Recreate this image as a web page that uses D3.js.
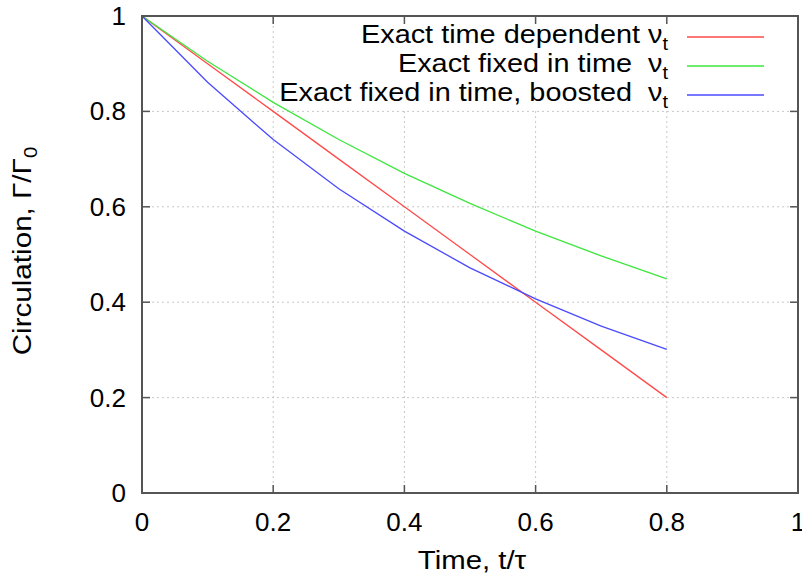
<!DOCTYPE html>
<html>
<head>
<meta charset="utf-8">
<script src="https://cdn.jsdelivr.net/npm/d3@7"></script>
<style>
  body { margin: 0; background: #fff; }
  svg text { font-family: "Liberation Sans", Arial, sans-serif; fill: #000; }
</style>
</head>
<body>
<svg id="chart" width="802" height="582"></svg>
<script>
const width = 802, height = 582;
const margin = {left: 142, right: 4, top: 16, bottom: 89};

// time t/tau
const times = [0, 0.1, 0.2, 0.3, 0.4, 0.5, 0.6, 0.7, 0.8];
const timeDependent = [1, 0.9, 0.8, 0.7, 0.6, 0.5, 0.4, 0.3, 0.2];
const fixedInTime = [1, 0.905, 0.819, 0.741, 0.670, 0.607, 0.549, 0.497, 0.449];
const fixedBoosted = [1, 0.861, 0.741, 0.638, 0.549, 0.472, 0.407, 0.350, 0.301];
const xTicks = [0, 0.2, 0.4, 0.6, 0.8, 1];
const yTicks = [0, 0.2, 0.4, 0.6, 0.8, 1];

const series = [
  {name: "Exact time dependent ", values: timeDependent, color: "#ff4a4a"},
  {name: "Exact fixed in time\u00a0 ", values: fixedInTime, color: "#3ee63e"},
  {name: "Exact fixed in time, boosted\u00a0 ", values: fixedBoosted, color: "#4a4aff"}
];

const svg = d3.select("#chart");
const x = d3.scaleLinear().domain([0, 1]).range([margin.left, width - margin.right]);
const y = d3.scaleLinear().domain([0, 1]).range([height - margin.bottom, margin.top]);
const stretch = 1.11; // the original font runs a bit wider

// grid
const grid = svg.append("g").attr("stroke", "#c8c8c8").attr("stroke-dasharray", "2,3");
grid.selectAll(".gx").data(xTicks.slice(1, -1)).join("line")
  .attr("x1", d => x(d)).attr("x2", d => x(d))
  .attr("y1", y(0)).attr("y2", y(1));
grid.selectAll(".gy").data(yTicks.slice(1, -1)).join("line")
  .attr("y1", d => y(d)).attr("y2", d => y(d))
  .attr("x1", x(0)).attr("x2", x(1));

// opaque key background
const keyTop = y(1), keyBottom = y(0.8) - 3;
svg.append("rect")
  .attr("x", x(0.205)).attr("y", keyTop)
  .attr("width", x(1) - x(0.205)).attr("height", keyBottom - keyTop)
  .attr("fill", "#fff");

// axes: inward ticks, mirrored
const tick = 8;
const axes = svg.append("g").attr("stroke", "#555").attr("stroke-width", 1.5);
axes.selectAll(".tb").data(xTicks).join("line")
  .attr("x1", d => x(d)).attr("x2", d => x(d))
  .attr("y1", y(0)).attr("y2", y(0) - tick);
axes.selectAll(".tt").data(xTicks).join("line")
  .attr("x1", d => x(d)).attr("x2", d => x(d))
  .attr("y1", y(1)).attr("y2", y(1) + tick);
axes.selectAll(".tl").data(yTicks).join("line")
  .attr("y1", d => y(d)).attr("y2", d => y(d))
  .attr("x1", x(0)).attr("x2", x(0) + tick);
axes.selectAll(".tr").data(yTicks).join("line")
  .attr("y1", d => y(d)).attr("y2", d => y(d))
  .attr("x1", x(1)).attr("x2", x(1) - tick);

// curves
const line = d3.line().x((d, i) => x(times[i])).y(d => y(d));
svg.selectAll(".curve").data(series).join("path")
  .attr("d", d => line(d.values))
  .attr("fill", "none")
  .attr("stroke", d => d.color)
  .attr("stroke-width", 1.3);

// border
svg.append("rect")
  .attr("x", x(0)).attr("y", y(1))
  .attr("width", x(1) - x(0)).attr("height", y(0) - y(1))
  .attr("fill", "none").attr("stroke", "#555").attr("stroke-width", 2);

// tick labels
svg.selectAll(".xl").data(xTicks).join("text")
  .attr("x", d => x(d)).attr("y", y(0) + 38)
  .attr("text-anchor", "middle").attr("font-size", 26)
  .text(d => d3.format("~g")(d));
svg.selectAll(".yl").data(yTicks).join("text")
  .attr("x", x(0) - 16).attr("y", d => y(d) + 9)
  .attr("text-anchor", "end").attr("font-size", 26)
  .text(d => d3.format("~g")(d));

// axis titles
svg.append("text")
  .attr("transform", `translate(472,569) scale(1.13,1)`)
  .attr("text-anchor", "middle").attr("font-size", 26)
  .text("Time, t/\u03c4");
const yt = svg.append("text")
  .attr("transform", `translate(31,251) rotate(-90) scale(1.14,1)`)
  .attr("text-anchor", "middle").attr("font-size", 26);
yt.append("tspan").text("Circulation, \u0393/\u0393");
yt.append("tspan").attr("font-size", 18).attr("dy", 6).text("0");

// legend
const keyY = [37, 66, 95];
const key = svg.selectAll(".key").data(series).join("g")
  .attr("transform", (d, i) => `translate(0,${keyY[i]})`);
const kt = key.append("text")
  .attr("transform", `translate(668,6) scale(${stretch},1)`)
  .attr("text-anchor", "end").attr("font-size", 26)
  .attr("xml:space", "preserve");
kt.append("tspan").text(d => d.name + "\u03bd");
kt.append("tspan").attr("font-size", 18).attr("dy", 7).text("t");
key.append("line")
  .attr("x1", 687).attr("x2", 764)
  .attr("stroke", d => d.color).attr("stroke-width", 1.3);
</script>
</body>
</html>
